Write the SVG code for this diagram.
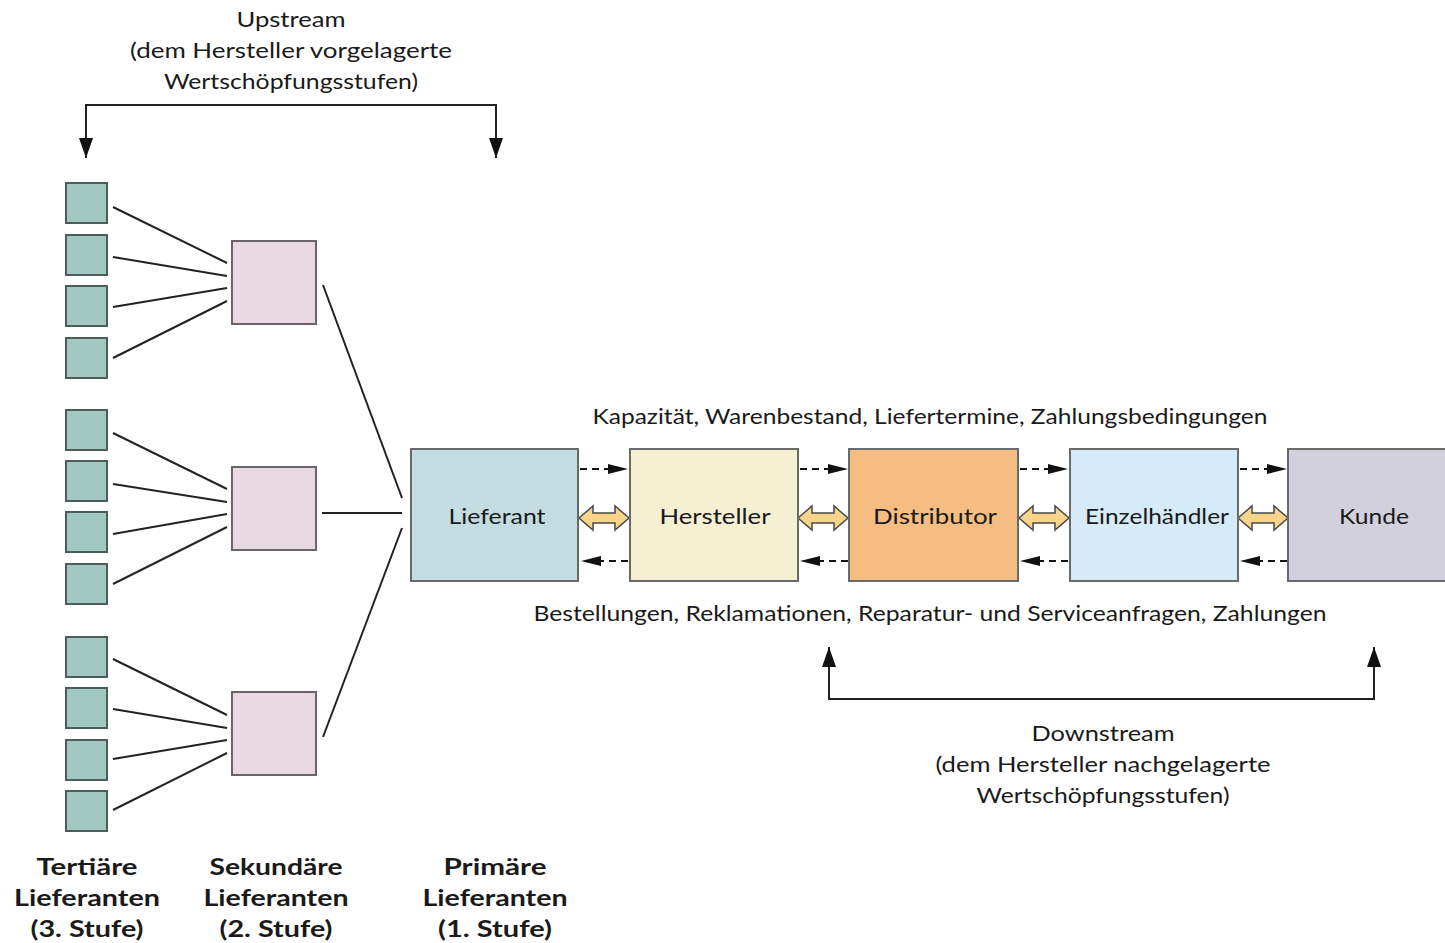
<svg xmlns="http://www.w3.org/2000/svg" width="1445" height="943" viewBox="0 0 1445 943">
  <defs>
    <style>
      text { font-family: Lato, "Liberation Sans", sans-serif; fill: #1a1a1a; text-anchor: middle; }
      .t { font-size: 21px; }
      .lbl { font-size: 22px; }
      .b { font-size: 22px; font-weight: bold; }
      .sq3 { fill: #a2c9c1; stroke: #4d5e5a; stroke-width: 2; }
      .sq2 { fill: #e8d8e2; stroke: #6a6468; stroke-width: 2; }
      .box { stroke: #6a6a6a; stroke-width: 2; }
      .ln { stroke: #222; stroke-width: 2; fill: none; }
      .dash { stroke: #111; stroke-width: 2; stroke-dasharray: 7 5; fill: none; }
      .dbl { fill: #f7d48a; stroke: #4a4a4a; stroke-width: 1.5; stroke-linejoin: miter; }
    </style>
    <marker id="head" viewBox="0 0 20 10" refX="20" refY="5" markerWidth="20" markerHeight="10" markerUnits="userSpaceOnUse" orient="auto">
      <path d="M0,0 L20,5 L0,10 Z" fill="#111"/>
    </marker>
    <marker id="bigHead" viewBox="0 0 20 14" refX="20" refY="7" markerWidth="20" markerHeight="14" markerUnits="userSpaceOnUse" orient="auto-start-reverse">
      <path d="M0,0 L20,7 L0,14 Z" fill="#111"/>
    </marker>
    <path id="dblArrow" d="M0,0 L14,-12 L14,-5 L36,-5 L36,-12 L50,0 L36,12 L36,5 L14,5 L14,12 Z"/>
  </defs>

  <rect x="0" y="0" width="1445" height="943" fill="#ffffff"/>

  <!-- upstream / downstream captions -->
  <g id="upstream-label">
    <text class="t" x="291" y="27" textLength="109" lengthAdjust="spacingAndGlyphs">Upstream</text>
    <text class="t" x="291" y="58" textLength="322" lengthAdjust="spacingAndGlyphs">(dem Hersteller vorgelagerte</text>
    <text class="t" x="291" y="89" textLength="254" lengthAdjust="spacingAndGlyphs">Wertschöpfungsstufen)</text>
  </g>
  <g id="downstream-label">
    <text class="t" x="1103" y="741" textLength="143" lengthAdjust="spacingAndGlyphs">Downstream</text>
    <text class="t" x="1103" y="772" textLength="335" lengthAdjust="spacingAndGlyphs">(dem Hersteller nachgelagerte</text>
    <text class="t" x="1103" y="803" textLength="253" lengthAdjust="spacingAndGlyphs">Wertschöpfungsstufen)</text>
  </g>
  <g id="flow-labels">
    <text class="t" x="930" y="424" textLength="675" lengthAdjust="spacingAndGlyphs">Kapazität, Warenbestand, Liefertermine, Zahlungsbedingungen</text>
    <text class="t" x="930" y="621" textLength="793" lengthAdjust="spacingAndGlyphs">Bestellungen, Reklamationen, Reparatur- und Serviceanfragen, Zahlungen</text>
  </g>

  <!-- connectors -->
  <g id="connectors">
    <!-- upstream bracket -->
    <path class="ln" d="M86,158 L86,105 L496,105 L496,158" marker-start="url(#bigHead)" marker-end="url(#bigHead)"/>
    <!-- downstream bracket -->
    <path class="ln" d="M829,647 L829,699 L1374,699 L1374,647" marker-start="url(#bigHead)" marker-end="url(#bigHead)"/>

    <!-- tertiary to secondary, group 1 -->
    <line class="ln" x1="113" y1="207" x2="227" y2="263"/>
    <line class="ln" x1="113" y1="257" x2="227" y2="276"/>
    <line class="ln" x1="113" y1="307" x2="227" y2="288"/>
    <line class="ln" x1="113" y1="358" x2="227" y2="301"/>
    <!-- group 2 -->
    <line class="ln" x1="113" y1="433" x2="227" y2="489"/>
    <line class="ln" x1="113" y1="484" x2="227" y2="502"/>
    <line class="ln" x1="113" y1="534" x2="227" y2="514"/>
    <line class="ln" x1="113" y1="584" x2="227" y2="527"/>
    <!-- group 3 -->
    <line class="ln" x1="113" y1="659" x2="227" y2="715"/>
    <line class="ln" x1="113" y1="709" x2="227" y2="728"/>
    <line class="ln" x1="113" y1="759" x2="227" y2="740"/>
    <line class="ln" x1="113" y1="810" x2="227" y2="753"/>

    <!-- secondary to primary -->
    <line class="ln" x1="323" y1="285" x2="402" y2="498"/>
    <line class="ln" x1="322" y1="513" x2="402" y2="513"/>
    <line class="ln" x1="323" y1="737" x2="402" y2="528"/>

    <!-- information flows downstream (top) -->
    <line class="dash" x1="580" y1="469" x2="628" y2="469" marker-end="url(#head)"/>
    <line class="dash" x1="800" y1="469" x2="848" y2="469" marker-end="url(#head)"/>
    <line class="dash" x1="1020" y1="469" x2="1068" y2="469" marker-end="url(#head)"/>
    <line class="dash" x1="1240" y1="469" x2="1287" y2="469" marker-end="url(#head)"/>
    <!-- flows upstream (bottom) -->
    <line class="dash" x1="628" y1="561" x2="581" y2="561" marker-end="url(#head)"/>
    <line class="dash" x1="848" y1="561" x2="800" y2="561" marker-end="url(#head)"/>
    <line class="dash" x1="1068" y1="561" x2="1020" y2="561" marker-end="url(#head)"/>
    <line class="dash" x1="1287" y1="561" x2="1240" y2="561" marker-end="url(#head)"/>

    <!-- two-way exchange arrows -->
    <use href="#dblArrow" class="dbl" x="579" y="518"/>
    <use href="#dblArrow" class="dbl" x="798" y="518"/>
    <use href="#dblArrow" class="dbl" x="1019" y="518"/>
    <use href="#dblArrow" class="dbl" x="1238" y="518"/>
  </g>

  <!-- tertiary suppliers -->
  <g id="tertiary-1">
    <rect class="sq3" x="66" y="183" width="41" height="40"/>
    <rect class="sq3" x="66" y="235" width="41" height="40"/>
    <rect class="sq3" x="66" y="286" width="41" height="40"/>
    <rect class="sq3" x="66" y="338" width="41" height="40"/>
  </g>
  <g id="tertiary-2">
    <rect class="sq3" x="66" y="410" width="41" height="40"/>
    <rect class="sq3" x="66" y="461" width="41" height="40"/>
    <rect class="sq3" x="66" y="512" width="41" height="40"/>
    <rect class="sq3" x="66" y="564" width="41" height="40"/>
  </g>
  <g id="tertiary-3">
    <rect class="sq3" x="66" y="637" width="41" height="40"/>
    <rect class="sq3" x="66" y="688" width="41" height="40"/>
    <rect class="sq3" x="66" y="740" width="41" height="40"/>
    <rect class="sq3" x="66" y="791" width="41" height="40"/>
  </g>

  <!-- secondary suppliers -->
  <g id="secondary-1"><rect class="sq2" x="232" y="241" width="84" height="83"/></g>
  <g id="secondary-2"><rect class="sq2" x="232" y="467" width="84" height="83"/></g>
  <g id="secondary-3"><rect class="sq2" x="232" y="692" width="84" height="83"/></g>

  <!-- supply chain stages -->
  <g id="lieferant">
    <rect class="box" x="411" y="449" width="167" height="132" fill="#c3dde3"/>
    <text class="lbl" x="497" y="524" textLength="97" lengthAdjust="spacingAndGlyphs">Lieferant</text>
  </g>
  <g id="hersteller">
    <rect class="box" x="630" y="449" width="168" height="132" fill="#f5f0d2"/>
    <text class="lbl" x="715" y="524" textLength="111" lengthAdjust="spacingAndGlyphs">Hersteller</text>
  </g>
  <g id="distributor">
    <rect class="box" x="849" y="449" width="169" height="132" fill="#f5bd82"/>
    <text class="lbl" x="935" y="524" textLength="124" lengthAdjust="spacingAndGlyphs">Distributor</text>
  </g>
  <g id="einzelhaendler">
    <rect class="box" x="1070" y="449" width="168" height="132" fill="#d6ebf8"/>
    <text class="lbl" x="1157" y="524" textLength="144" lengthAdjust="spacingAndGlyphs">Einzelhändler</text>
  </g>
  <g id="kunde">
    <rect class="box" x="1288" y="449" width="170" height="132" fill="#d3d0de"/>
    <text class="lbl" x="1374" y="524" textLength="70" lengthAdjust="spacingAndGlyphs">Kunde</text>
  </g>

  <!-- tier captions -->
  <g id="tier-captions">
    <text class="b" x="87" y="875" textLength="101" lengthAdjust="spacingAndGlyphs">Tertiäre</text>
    <text class="b" x="87" y="906" textLength="146" lengthAdjust="spacingAndGlyphs">Lieferanten</text>
    <text class="b" x="87" y="937" textLength="113" lengthAdjust="spacingAndGlyphs">(3. Stufe)</text>
    <text class="b" x="276" y="875" textLength="133" lengthAdjust="spacingAndGlyphs">Sekundäre</text>
    <text class="b" x="276" y="906" textLength="145" lengthAdjust="spacingAndGlyphs">Lieferanten</text>
    <text class="b" x="276" y="937" textLength="113" lengthAdjust="spacingAndGlyphs">(2. Stufe)</text>
    <text class="b" x="495" y="875" textLength="103" lengthAdjust="spacingAndGlyphs">Primäre</text>
    <text class="b" x="495" y="906" textLength="145" lengthAdjust="spacingAndGlyphs">Lieferanten</text>
    <text class="b" x="495" y="937" textLength="114" lengthAdjust="spacingAndGlyphs">(1. Stufe)</text>
  </g>
</svg>
